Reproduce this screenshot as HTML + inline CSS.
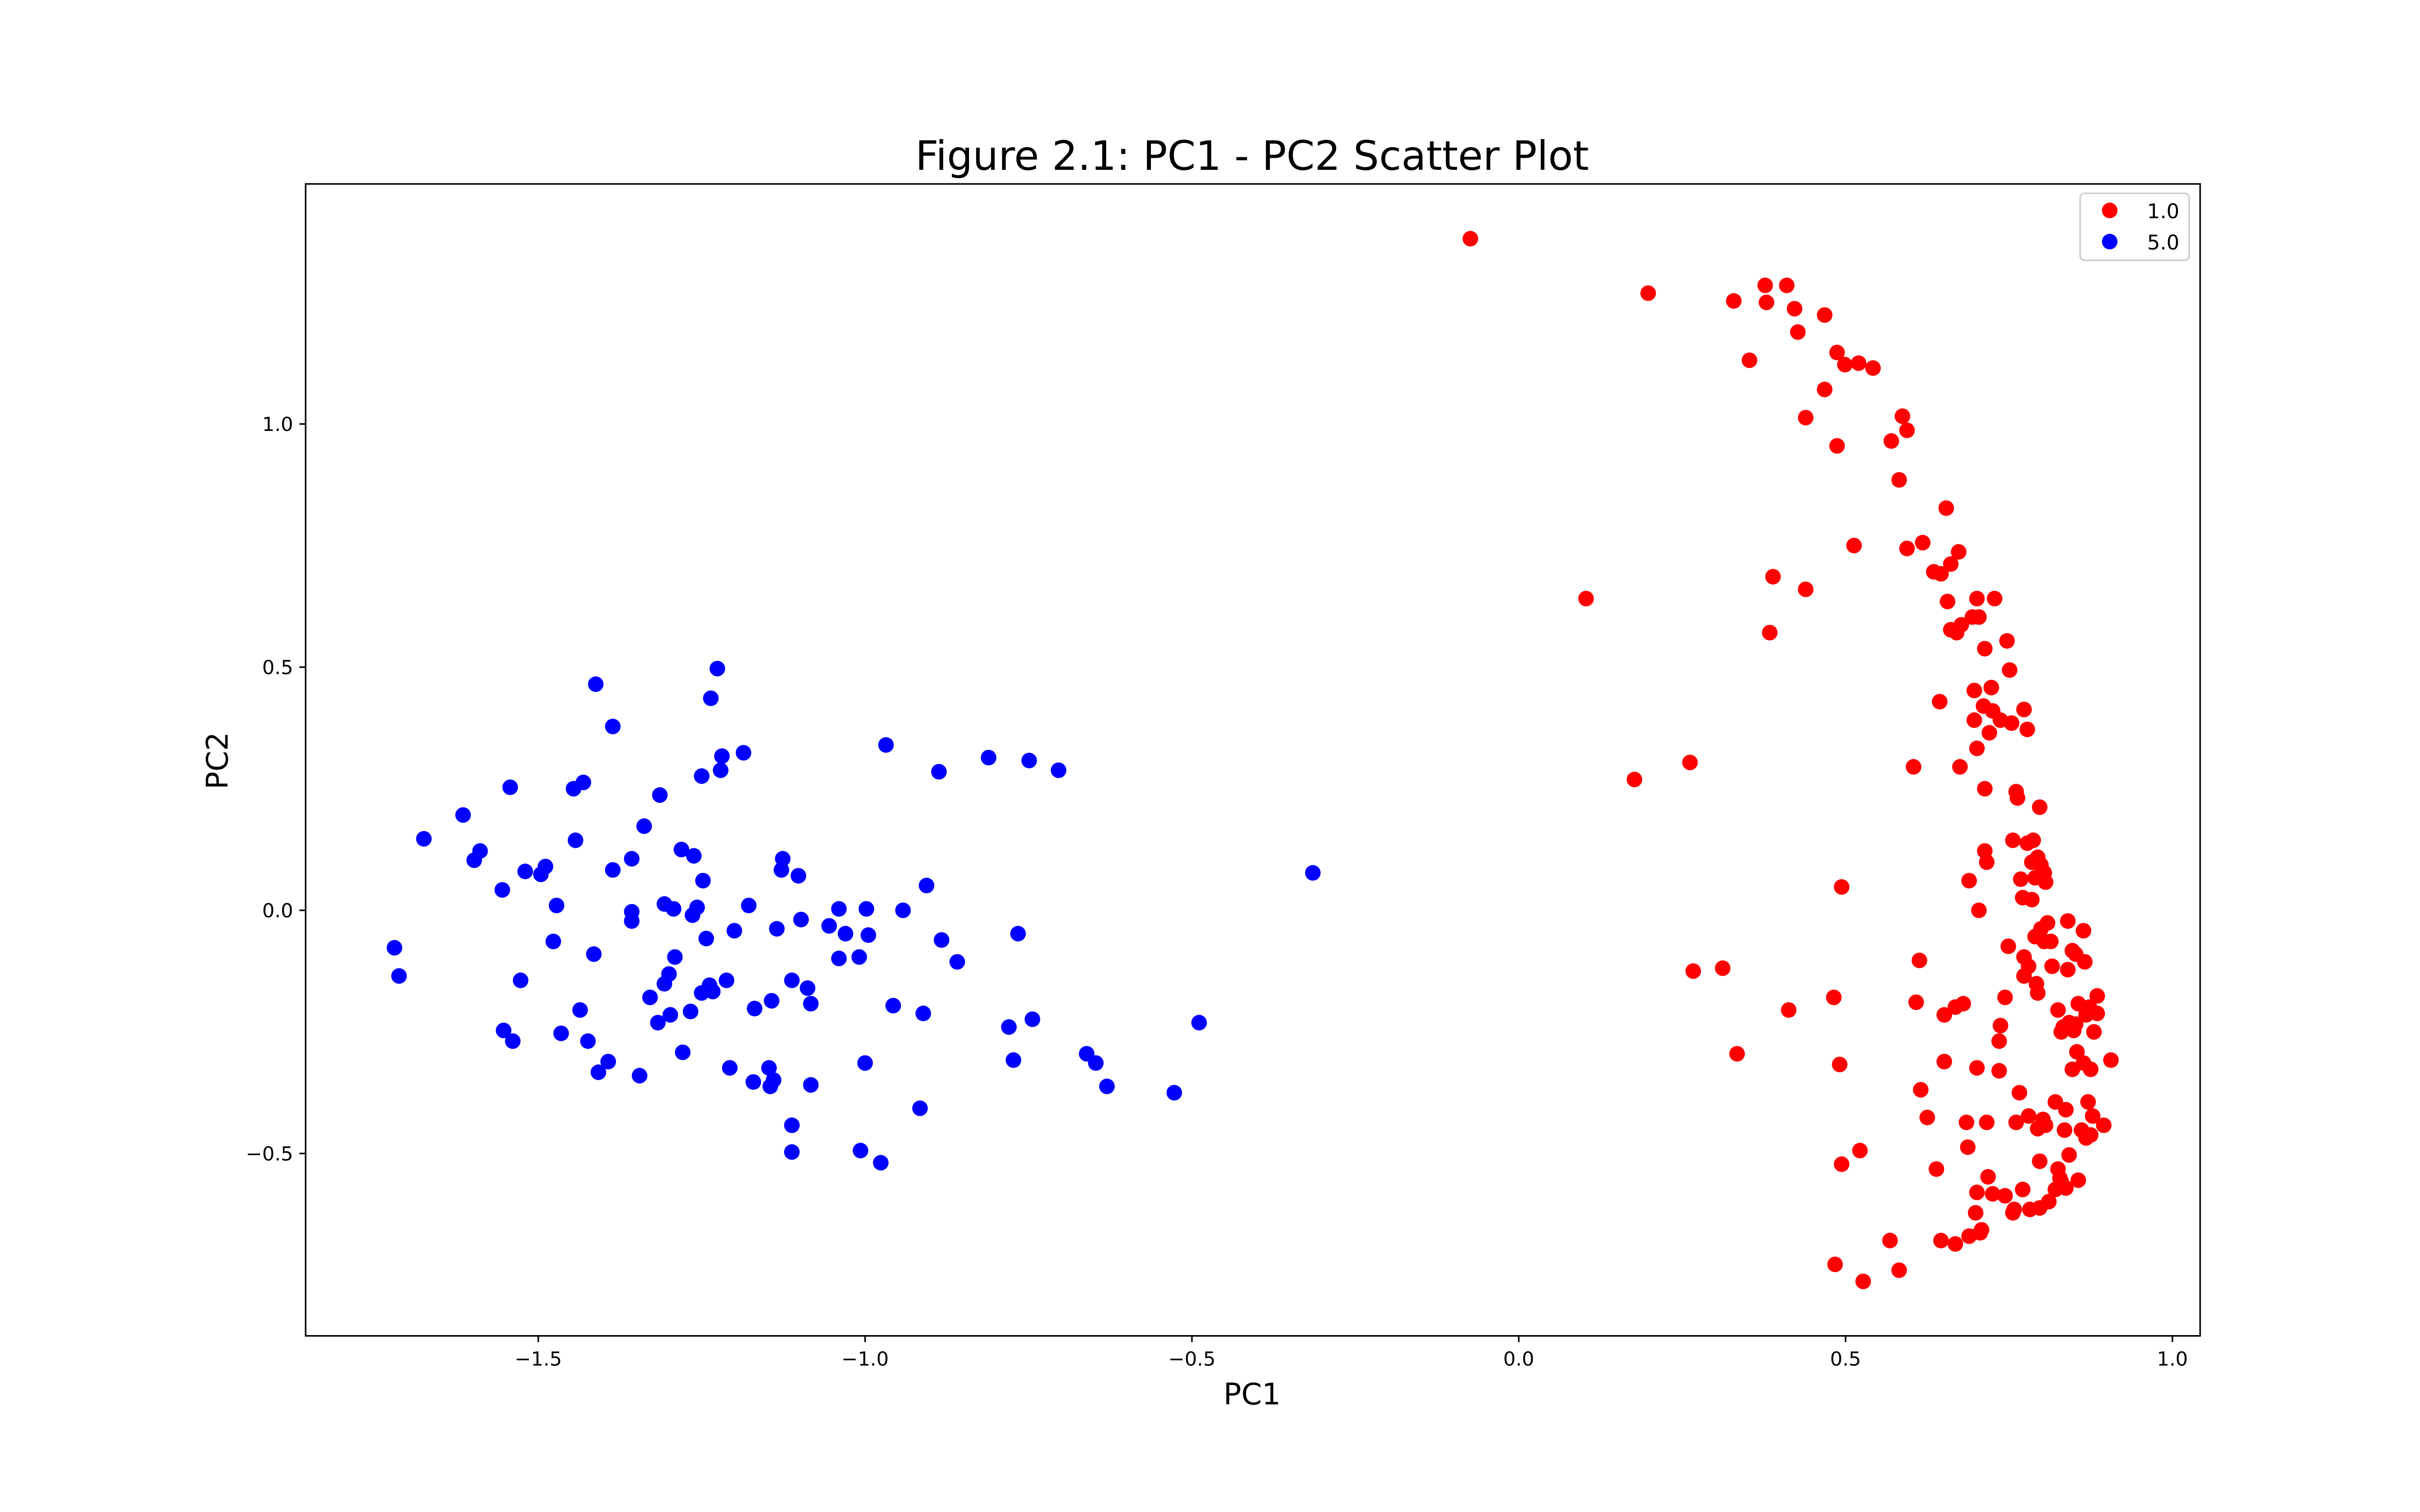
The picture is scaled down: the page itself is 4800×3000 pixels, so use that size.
<!DOCTYPE html>
<html>
<head>
<meta charset="utf-8">
<style>
html,body{margin:0;padding:0;background:#fff;}
svg{display:block;}
text{font-family:"DejaVu Sans","Liberation Sans",sans-serif;fill:#000;}
</style>
</head>
<body>
<svg id="chart" width="4800" height="3000" viewBox="0 0 1552 970" xmlns="http://www.w3.org/2000/svg">
  <rect x="0" y="0" width="1552" height="970" fill="#fff"/>
  <text x="803" y="109" font-size="26" text-anchor="middle">Figure 2.1: PC1 - PC2 Scatter Plot</text>
  <g id="marks"></g>
  <rect x="196" y="118" width="1215" height="739" fill="none" stroke="#000" stroke-width="1"/>
  <g id="xticks"></g>
  <g id="yticks"></g>
  <text x="803" y="901" font-size="19" text-anchor="middle">PC1</text>
  <text x="146" y="488" font-size="19" text-anchor="middle" transform="rotate(-90 146 488)">PC2</text>
  <g>
    <rect x="1334" y="124" width="70" height="43" rx="3" fill="#fff" stroke="#ccc" stroke-width="1"/>
    <circle cx="1353" cy="135" r="5" fill="#ff0000"/>
    <text x="1377" y="140" font-size="13">1.0</text>
    <circle cx="1353" cy="155" r="5" fill="#0000ff"/>
    <text x="1377" y="160" font-size="13">5.0</text>
  </g>
</svg>
<script>
const xTickValues = [-1.5, -1.0, -0.5, 0.0, 0.5, 1.0];
const xTickLabels = ["\u22121.5", "\u22121.0", "\u22120.5", "0.0", "0.5", "1.0"];
const yTickValues = [-0.5, 0.0, 0.5, 1.0];
const yTickLabels = ["\u22120.5", "0.0", "0.5", "1.0"];
const blueX = [-1.72,-1.713,-1.675,-1.615,-1.598,-1.589,-1.555,-1.543,-1.553,-1.539,-1.527,-1.52,-1.496,-1.489,-1.472,-1.477,-1.465,-1.446,-1.431,-1.443,-1.436,-1.424,-1.412,-1.415,-1.408,-1.393,-1.386,-1.386,-1.357,-1.357,-1.357,-1.345,-1.338,-1.329,-1.314,-1.307,-1.317,-1.307,-1.300,-1.298,-1.293,-1.291,-1.281,-1.279,-1.267,-1.262,-1.264,-1.257,-1.25,-1.248,-1.25,-1.243,-1.238,-1.233,-1.236,-1.226,-1.221,-1.219,-1.212,-1.207,-1.200,-1.186,-1.178,-1.169,-1.171,-1.147,-1.145,-1.140,-1.143,-1.135,-1.126,-1.128,-1.112,-1.112,-1.112,-1.102,-1.098,-1.088,-1.083,-1.083,-1.055,-1.040,-1.040,-1.030,-1.009,-1.007,-1.000,-0.998,-0.995,-0.976,-0.968,-0.957,-0.942,-0.916,-0.911,-0.906,-0.887,-0.883,-0.859,-0.811,-0.780,-0.773,-0.766,-0.749,-0.744,-0.704,-0.661,-0.647,-0.630,-0.527,-0.489,-0.315];
const blueY = [-0.077,-0.135,0.147,0.196,0.103,0.122,0.042,0.253,-0.247,-0.269,-0.144,0.080,0.074,0.090,0.010,-0.064,-0.253,0.250,0.263,0.144,-0.205,-0.269,0.465,-0.090,-0.333,-0.311,0.378,0.083,0.106,-0.003,-0.022,-0.340,0.173,-0.179,0.237,0.013,-0.231,-0.151,-0.131,-0.215,0.003,-0.096,0.125,-0.292,-0.208,0.112,-0.010,0.006,0.276,0.061,-0.170,-0.058,-0.154,-0.167,0.436,0.497,0.288,0.317,-0.144,-0.324,-0.042,0.324,0.010,-0.202,-0.353,-0.324,-0.362,-0.349,-0.186,-0.038,0.106,0.083,-0.144,-0.442,-0.497,0.071,-0.019,-0.160,-0.192,-0.359,-0.032,0.003,-0.099,-0.048,-0.096,-0.494,-0.314,0.003,-0.051,-0.519,0.340,-0.196,0.000,-0.407,-0.212,0.051,0.285,-0.061,-0.106,0.314,-0.240,-0.308,-0.048,0.308,-0.224,0.288,-0.295,-0.314,-0.362,-0.375,-0.231,0.077];
const redX = [-0.074,0.103,0.177,0.198,0.262,0.267,0.312,0.329,0.334,0.353,0.377,0.379,0.384,0.389,0.410,0.413,0.422,0.427,0.439,0.439,0.468,0.468,0.482,0.484,0.487,0.487,0.491,0.494,0.494,0.499,0.513,0.520,0.522,0.527,0.542,0.568,0.570,0.582,0.582,0.587,0.594,0.594,0.604,0.608,0.613,0.615,0.618,0.625,0.635,0.639,0.644,0.646,0.646,0.651,0.651,0.654,0.656,0.661,0.661,0.668,0.668,0.670,0.673,0.675,0.677,0.680,0.685,0.687,0.689,0.689,0.694,0.697,0.697,0.699,0.701,0.701,0.701,0.704,0.701,0.704,0.706,0.708,0.711,0.713,0.713,0.713,0.716,0.716,0.718,0.720,0.723,0.725,0.725,0.728,0.735,0.735,0.737,0.737,0.744,0.744,0.747,0.749,0.751,0.754,0.756,0.756,0.758,0.761,0.761,0.763,0.766,0.768,0.771,0.771,0.773,0.773,0.773,0.778,0.778,0.780,0.780,0.782,0.785,0.785,0.787,0.790,0.790,0.792,0.794,0.794,0.794,0.797,0.797,0.797,0.799,0.799,0.802,0.804,0.804,0.806,0.806,0.809,0.811,0.814,0.816,0.821,0.821,0.825,0.825,0.828,0.830,0.830,0.833,0.835,0.837,0.837,0.840,0.840,0.842,0.842,0.847,0.847,0.849,0.852,0.852,0.856,0.854,0.856,0.861,0.864,0.864,0.866,0.868,0.868,0.871,0.873,0.875,0.875,0.878,0.880,0.885,0.885,0.895,0.906];
const redY = [1.381,0.641,0.269,1.269,0.304,-0.125,-0.119,1.253,-0.295,1.131,1.285,1.250,0.571,0.686,1.285,-0.205,1.237,1.189,1.013,0.660,1.224,1.071,-0.179,-0.728,1.147,0.955,-0.317,0.048,-0.522,1.122,0.750,1.125,-0.494,-0.763,1.115,-0.679,0.965,0.885,-0.740,1.016,0.987,0.744,0.295,-0.189,-0.103,-0.369,0.756,-0.426,0.696,-0.532,0.429,0.692,-0.679,-0.215,-0.311,0.827,0.635,0.712,0.577,-0.686,-0.199,0.571,0.737,0.295,0.587,-0.192,-0.436,-0.487,0.061,-0.670,0.603,0.452,0.391,-0.622,0.641,-0.324,-0.580,0.603,0.333,0.000,-0.663,-0.657,0.420,0.538,0.250,0.122,0.099,-0.436,-0.548,0.365,0.458,-0.583,0.410,0.641,-0.330,-0.269,-0.237,0.391,-0.179,-0.587,0.554,-0.074,0.494,0.385,-0.622,0.144,-0.615,-0.436,0.244,0.231,-0.375,0.064,0.026,-0.574,-0.096,-0.135,0.413,0.372,0.138,-0.115,-0.423,-0.615,0.099,0.022,0.144,0.067,-0.054,-0.151,0.109,-0.170,-0.449,0.212,-0.516,-0.612,0.093,-0.038,-0.430,0.077,-0.064,0.058,-0.442,-0.026,-0.599,-0.064,-0.115,-0.394,-0.574,-0.205,-0.532,-0.551,-0.558,-0.250,-0.240,-0.452,-0.571,-0.410,-0.022,-0.122,-0.231,-0.503,-0.083,-0.327,-0.247,-0.090,-0.234,-0.555,-0.291,-0.192,-0.452,-0.042,-0.314,-0.106,-0.215,-0.468,-0.394,-0.199,-0.462,-0.327,-0.423,-0.250,-0.176,-0.212,-0.442,-0.308];

const NS = "http://www.w3.org/2000/svg";
function xScale(v){ return 974 + v * 419.2; }
function yScale(v){ return 584 - v * 312; }

const marks = document.getElementById('marks');
function drawSeries(xs, ys, color, name){
  for (let i = 0; i < xs.length; i++){
    const c = document.createElementNS(NS, 'circle');
    c.setAttribute('cx', xScale(xs[i]));
    c.setAttribute('cy', yScale(ys[i]));
    c.setAttribute('r', 5);
    c.setAttribute('fill', color);
    
    
    marks.appendChild(c);
  }
}
drawSeries(redX, redY, '#ff0000', 'point-class-1');
drawSeries(blueX, blueY, '#0000ff', 'point-class-5');

const xg = document.getElementById('xticks');
for (let i = 0; i < xTickValues.length; i++){
  const x = xScale(xTickValues[i]);
  const l = document.createElementNS(NS, 'line');
  l.setAttribute('x1', x); l.setAttribute('x2', x);
  l.setAttribute('y1', 857); l.setAttribute('y2', 861);
  l.setAttribute('stroke', '#000');
  
  
  xg.appendChild(l);
  const t = document.createElementNS(NS, 'text');
  t.setAttribute('x', x); t.setAttribute('y', 876);
  t.setAttribute('font-size', '12.5');
  t.setAttribute('text-anchor', 'middle');
  t.textContent = xTickLabels[i];
  
  
  xg.appendChild(t);
}
const yg = document.getElementById('yticks');
for (let i = 0; i < yTickValues.length; i++){
  const y = yScale(yTickValues[i]);
  const l = document.createElementNS(NS, 'line');
  l.setAttribute('x1', 192); l.setAttribute('x2', 196);
  l.setAttribute('y1', y); l.setAttribute('y2', y);
  l.setAttribute('stroke', '#000');
  
  
  yg.appendChild(l);
  const t = document.createElementNS(NS, 'text');
  t.setAttribute('x', 188); t.setAttribute('y', y + 4.5);
  t.setAttribute('font-size', '12.5');
  t.setAttribute('text-anchor', 'end');
  t.textContent = yTickLabels[i];
  
  
  yg.appendChild(t);
}
</script>
</body>
</html>
